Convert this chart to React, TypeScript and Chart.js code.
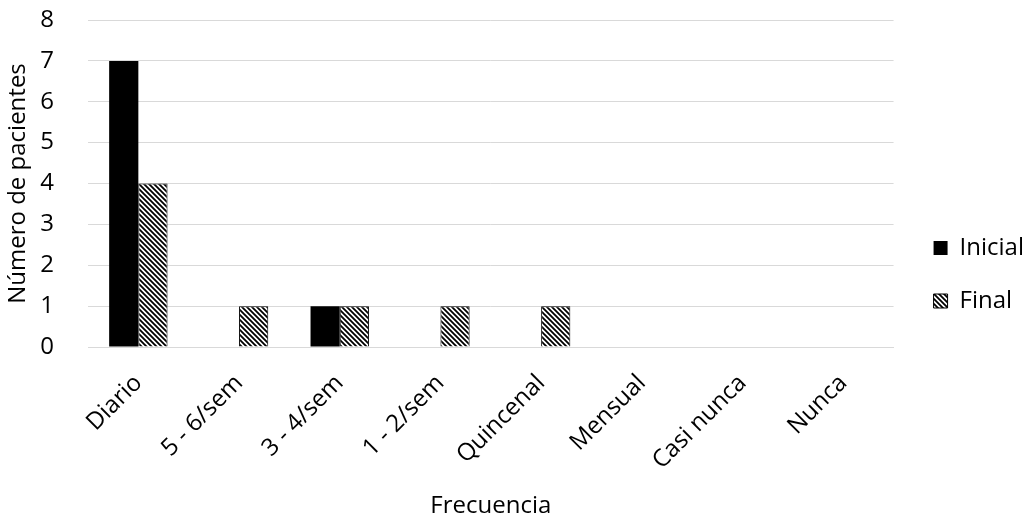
import React, { useEffect, useRef } from "react";
import { Chart, registerables } from "chart.js";

Chart.register(...registerables);

const categories = ["Diario", "5 - 6/sem", "3 - 4/sem", "1 - 2/sem", "Quincenal", "Mensual", "Casi nunca", "Nunca"];
const inicial = [7, 0, 1, 0, 0, 0, 0, 0];
const final = [4, 1, 1, 1, 1, 0, 0, 0];
const yTicks = [0, 1, 2, 3, 4, 5, 6, 7, 8];

const FONT = "'Open Sans', 'Liberation Sans', sans-serif";
const FS = 24;

function makeHatch(): CanvasPattern | string {
  const c = document.createElement("canvas");
  const s = 5;
  c.width = s;
  c.height = s;
  const ctx = c.getContext("2d");
  if (!ctx) return "#888";
  ctx.fillStyle = "#ffffff";
  ctx.fillRect(0, 0, s, s);
  ctx.strokeStyle = "#000000";
  ctx.lineWidth = 1.8;
  ctx.beginPath();
  ctx.moveTo(-1, -1);
  ctx.lineTo(s + 1, s + 1);
  ctx.moveTo(-1, s - 1);
  ctx.lineTo(1, s + 1);
  ctx.moveTo(s - 1, -1);
  ctx.lineTo(s + 1, 1);
  ctx.stroke();
  const p = ctx.createPattern(c, "repeat");
  return p || "#888";
}

const legendShift = {
  id: "legendShift",
  afterLayout(chart: any) {
    const lg = chart.legend;
    if (!lg) return;
    const dx = 11;
    const dy = 1;
    lg.left += dx;
    lg.right += dx;
    lg.top += dy;
    lg.bottom += dy;
    if (lg.legendHitBoxes) {
      lg.legendHitBoxes.forEach((b: any) => {
        b.left += dx;
        b.top += dy;
      });
    }
  },
};

export default function App() {
  const ref = useRef<HTMLCanvasElement>(null);
  useEffect(() => {
    if (!ref.current) return;
    const hatch = makeHatch();
    const chart = new Chart(ref.current, {
      type: "bar",
      data: {
        labels: categories,
        datasets: [
          {
            label: "Inicial",
            data: inicial,
            backgroundColor: "#000000",
            borderColor: "#000000",
            borderWidth: 0,
            categoryPercentage: 0.58,
            barPercentage: 1.0,
          },
          {
            label: "Final",
            data: final,
            backgroundColor: hatch as any,
            borderColor: "#000000",
            borderWidth: 1,
            categoryPercentage: 0.58,
            barPercentage: 1.0,
          },
        ],
      },
      plugins: [legendShift],
      options: {
        animation: false,
        responsive: false,
        maintainAspectRatio: false,
        layout: { padding: { left: 0, right: 13, top: 20, bottom: 0 } },
        plugins: {
          legend: {
            position: "right",
            align: "center",
            labels: {
              boxWidth: 14,
              boxHeight: 14,
              padding: 29,
              color: "#000",
              font: { family: FONT, size: FS },
            },
          },
          tooltip: { enabled: false },
        },
        scales: {
          x: {
            afterFit: (s: any) => {
              s.height = 180;
              s.paddingLeft = 0;
              s.paddingRight = 0;
            },
            grid: { display: false, drawTicks: false },
            border: { display: true, color: "#d9d9d9", width: 1 },
            ticks: {
              color: "#000",
              minRotation: 45,
              maxRotation: 45,
              padding: 22,
              font: { family: FONT, size: FS },
            },
            title: {
              display: true,
              text: "Frecuencia",
              color: "#000",
              font: { family: FONT, size: FS },
              padding: { top: 0, bottom: 6 },
            },
          },
          y: {
            min: 0,
            max: 8,
            afterBuildTicks: (axis: any) => {
              axis.ticks = yTicks.map((v) => ({ value: v }));
            },
            afterFit: (s: any) => {
              s.width = 88;
              s.paddingTop = 0;
              s.paddingBottom = 0;
            },
            grid: { color: "#d9d9d9", drawTicks: false, lineWidth: 1 },
            border: { display: false },
            ticks: {
              color: "#000",
              padding: 34,
              font: { family: FONT, size: FS },
            },
            title: {
              display: true,
              text: "Número de pacientes",
              color: "#000",
              font: { family: FONT, size: FS },
              padding: { top: 4, bottom: 0 },
            },
          },
        },
      },
    });
    return () => chart.destroy();
  }, []);
  return (
    <div style={{ position: "absolute", left: 0, top: 0, width: 1036, height: 527, background: "#fff" }}>
      <canvas ref={ref} width={1036} height={527} style={{ width: 1036, height: 527 }} />
    </div>
  );
}
